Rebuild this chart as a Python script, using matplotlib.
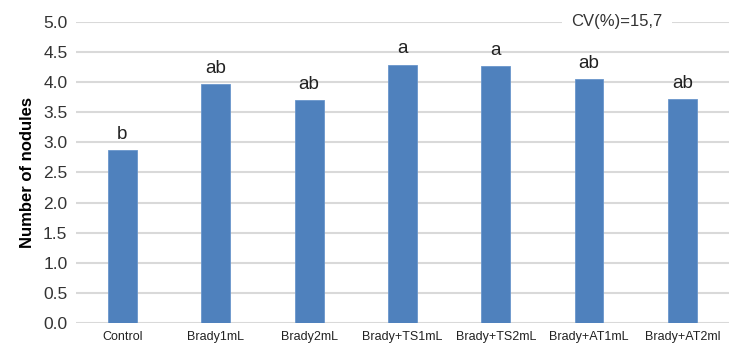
import matplotlib.pyplot as plt

plt.rcParams['font.family'] = ['Liberation Sans', 'DejaVu Sans']

# treatments and mean nodule counts
treatments = ['Control', 'Brady1mL', 'Brady2mL', 'Brady+TS1mL',
              'Brady+TS2mL', 'Brady+AT1mL', 'Brady+AT2ml']
nodules = [2.87, 3.97, 3.70, 4.29, 4.26, 4.05, 3.72]
letters = ['b', 'ab', 'ab', 'a', 'a', 'ab', 'ab']
yticks = [0.0, 0.5, 1.0, 1.5, 2.0, 2.5, 3.0, 3.5, 4.0, 4.5, 5.0]

fig = plt.figure(figsize=(7.29, 3.47), dpi=100)
ax = fig.add_axes([0.104, 0.069, 0.896, 0.868])

x = range(len(treatments))
ax.bar(x, nodules, width=0.31, color='#4f81bd', edgecolor='#6a96cc',
       linewidth=0.6, zorder=3)

for i, (v, lab) in enumerate(zip(nodules, letters)):
    ax.text(i, v + 0.12, lab, ha='center', va='bottom', fontsize=13.5,
            color='#222222')

ax.set_ylim(0, 5.0)
ax.set_xlim(-0.5, len(treatments) - 0.5)
ax.set_yticks(yticks)
ax.set_yticklabels(['%.1f' % t for t in yticks], fontsize=12.5, color='#333333')
ax.set_xticks(list(x))
ax.set_xticklabels(treatments, fontsize=9, color='#222222')
ax.tick_params(axis='both', length=0)
ax.tick_params(axis='y', pad=6)
ax.tick_params(axis='x', pad=6)

ax.yaxis.grid(True, color='#d9d9d9', linewidth=1.5, zorder=0)
for s in ax.spines.values():
    s.set_visible(False)

ax.set_ylabel('Number of nodules', fontsize=12, fontweight='bold', labelpad=6)

ax.text(5.3, 5.0, 'CV(%)=15,7', ha='center', va='center', fontsize=12,
        color='#333333', zorder=4,
        bbox=dict(facecolor='white', edgecolor='none', pad=7))

plt.savefig('out.png', dpi=100)
